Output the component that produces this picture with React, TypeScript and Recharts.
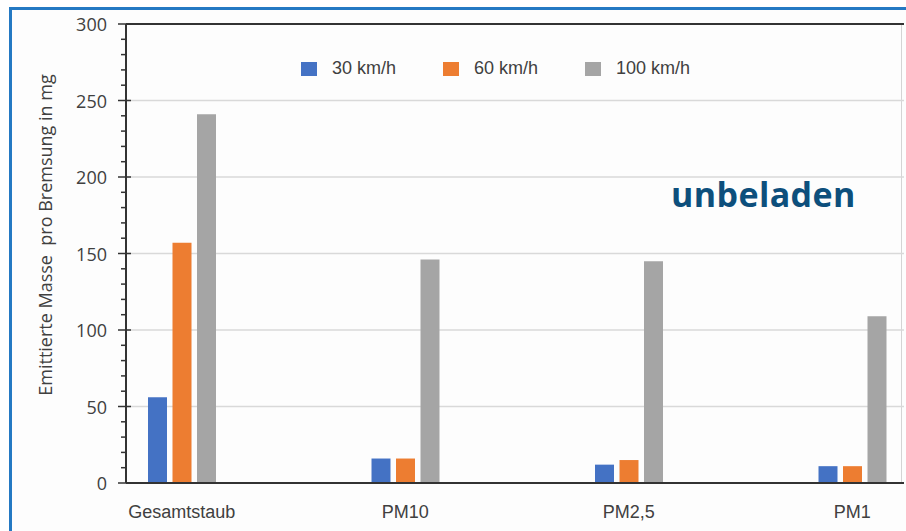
import React from "react";
import {
  Bar,
  BarChart,
  CartesianGrid,
  Legend,
  ReferenceLine,
  XAxis,
  YAxis,
} from "recharts";

// categories and emitted mass per braking event (mg)
const CATEGORIES = ["Gesamtstaub", "PM10", "PM2,5", "PM1"];
const KMH_30 = [56, 16, 12, 11];
const KMH_60 = [157, 16, 15, 11];
const KMH_100 = [241, 146, 145, 109];

const SERIES_NAMES = ["30 km/h", "60 km/h", "100 km/h"];
const Y_TICKS = [
  0, 10, 20, 30, 40, 50, 60, 70, 80, 90, 100, 110, 120, 130, 140, 150, 160,
  170, 180, 190, 200, 210, 220, 230, 240, 250, 260, 270, 280, 290, 300,
];
const GRID_VALUES = [50, 100, 150, 200, 250];
const Y_TITLE = "Emittierte Masse  pro Bremsung in mg";

const data = CATEGORIES.map((name, i) => ({
  name,
  v30: KMH_30[i],
  v60: KMH_60[i],
  v100: KMH_100[i],
}));

const AXIS = "#333333";
const TEXT = "#404040";

// y ticks: labelled major tick every 50, small minor tick every 10
const YTick = (props: any) => {
  const { x, y, payload } = props;
  const major = payload.value % 50 === 0;
  return (
    <g>
      <line
        x1={major ? x - 8 : x - 5}
        x2={major ? x + 5 : x}
        y1={y}
        y2={y}
        stroke={AXIS}
        strokeWidth={1.5}
      />
      {major && (
        <text
          x={x - 19}
          y={y}
          textAnchor="end"
          dominantBaseline="central"
          fill={TEXT}
          fontFamily="'Open Sans', sans-serif"
          fontSize={18}
        >
          {payload.value}
        </text>
      )}
    </g>
  );
};

const YTitle = () => (
  <text
    transform="translate(45,235) rotate(-90)"
    textAnchor="middle"
    dominantBaseline="central"
    fill={TEXT}
    fontFamily="'Open Sans', sans-serif"
    fontSize={18}
    style={{ whiteSpace: "pre" }}
  >
    {Y_TITLE}
  </text>
);

// legend items kept in series order
const LegendContent = (props: any) => {
  const { payload = [] } = props;
  const items = [...payload].sort(
    (a: any, b: any) =>
      SERIES_NAMES.indexOf(a.value) - SERIES_NAMES.indexOf(b.value)
  );
  return (
    <div style={{ display: "flex" }}>
      {items.map((p: any) => (
        <div
          key={p.value}
          style={{ width: 142, display: "flex", alignItems: "center" }}
        >
          <span
            style={{
              display: "inline-block",
              width: 16,
              height: 14,
              background: p.color,
              marginRight: 15,
            }}
          />
          <span
            style={{
              fontFamily: "'Liberation Sans', Arial, sans-serif",
              fontSize: 18,
              color: TEXT,
            }}
          >
            {p.value}
          </span>
        </div>
      ))}
    </div>
  );
};

export default function App() {
  return (
    <div
      style={{
        position: "absolute",
        left: 0,
        top: 0,
        width: 906,
        height: 531,
        overflow: "hidden",
        background: "#ffffff",
      }}
    >
      {/* blue frame, cut off at right and bottom */}
      <div
        style={{
          position: "absolute",
          left: 9,
          top: 7,
          width: 920,
          height: 540,
          borderLeft: "3px solid #2479c3",
          borderTop: "3px solid #2479c3",
          background: "#fdfdfd",
        }}
      />
      {/* plot area right border */}
      <div
        style={{
          position: "absolute",
          left: 901,
          top: 24,
          width: 1,
          height: 459,
          background: "#d4d4d4",
        }}
      />

      <div style={{ position: "absolute", left: 0, top: 0 }}>
        <BarChart
          width={906}
          height={531}
          data={data}
          margin={{ top: 24, right: 2, bottom: 0, left: 0 }}
          barSize={19}
          barGap={5.5}
        >
          <CartesianGrid
            vertical={false}
            horizontalValues={GRID_VALUES}
            stroke="#d9d9d9"
            strokeWidth={1.5}
          />

          <XAxis
            dataKey="name"
            height={48}
            interval={0}
            padding={{ left: -56, right: -60 }}
            axisLine={{ stroke: AXIS, strokeWidth: 2 }}
            tickLine={false}
            tickSize={0}
            tickMargin={22}
            tick={{
              fill: TEXT,
              fontSize: 18,
              fontFamily: "'Liberation Sans', Arial, sans-serif",
            }}
          />

          <YAxis
            type="number"
            domain={[0, 300]}
            ticks={Y_TICKS}
            interval={0}
            width={126}
            axisLine={{ stroke: AXIS, strokeWidth: 2 }}
            tickLine={false}
            tickSize={0}
            tickMargin={0}
            tick={<YTick />}
            label={<YTitle />}
          />

          <ReferenceLine y={300} stroke={AXIS} strokeWidth={2} />

          <Legend
            layout="horizontal"
            verticalAlign="middle"
            align="center"
            content={<LegendContent />}
            wrapperStyle={{ left: 301, top: 58, width: 450 }}
          />

          <Bar
            dataKey="v30"
            name={SERIES_NAMES[0]}
            fill="#4472c4"
            isAnimationActive={false}
          />
          <Bar
            dataKey="v60"
            name={SERIES_NAMES[1]}
            fill="#ed7d31"
            isAnimationActive={false}
          />
          <Bar
            dataKey="v100"
            name={SERIES_NAMES[2]}
            fill="#a5a5a5"
            isAnimationActive={false}
          />
        </BarChart>
      </div>

      <div
        style={{
          position: "absolute",
          left: 671,
          top: 177,
          fontFamily: "'Open Sans', sans-serif",
          fontWeight: 700,
          fontSize: 34,
          letterSpacing: 0.4,
          lineHeight: "34px",
          color: "#0d4f7c",
        }}
      >
        unbeladen
      </div>
    </div>
  );
}
